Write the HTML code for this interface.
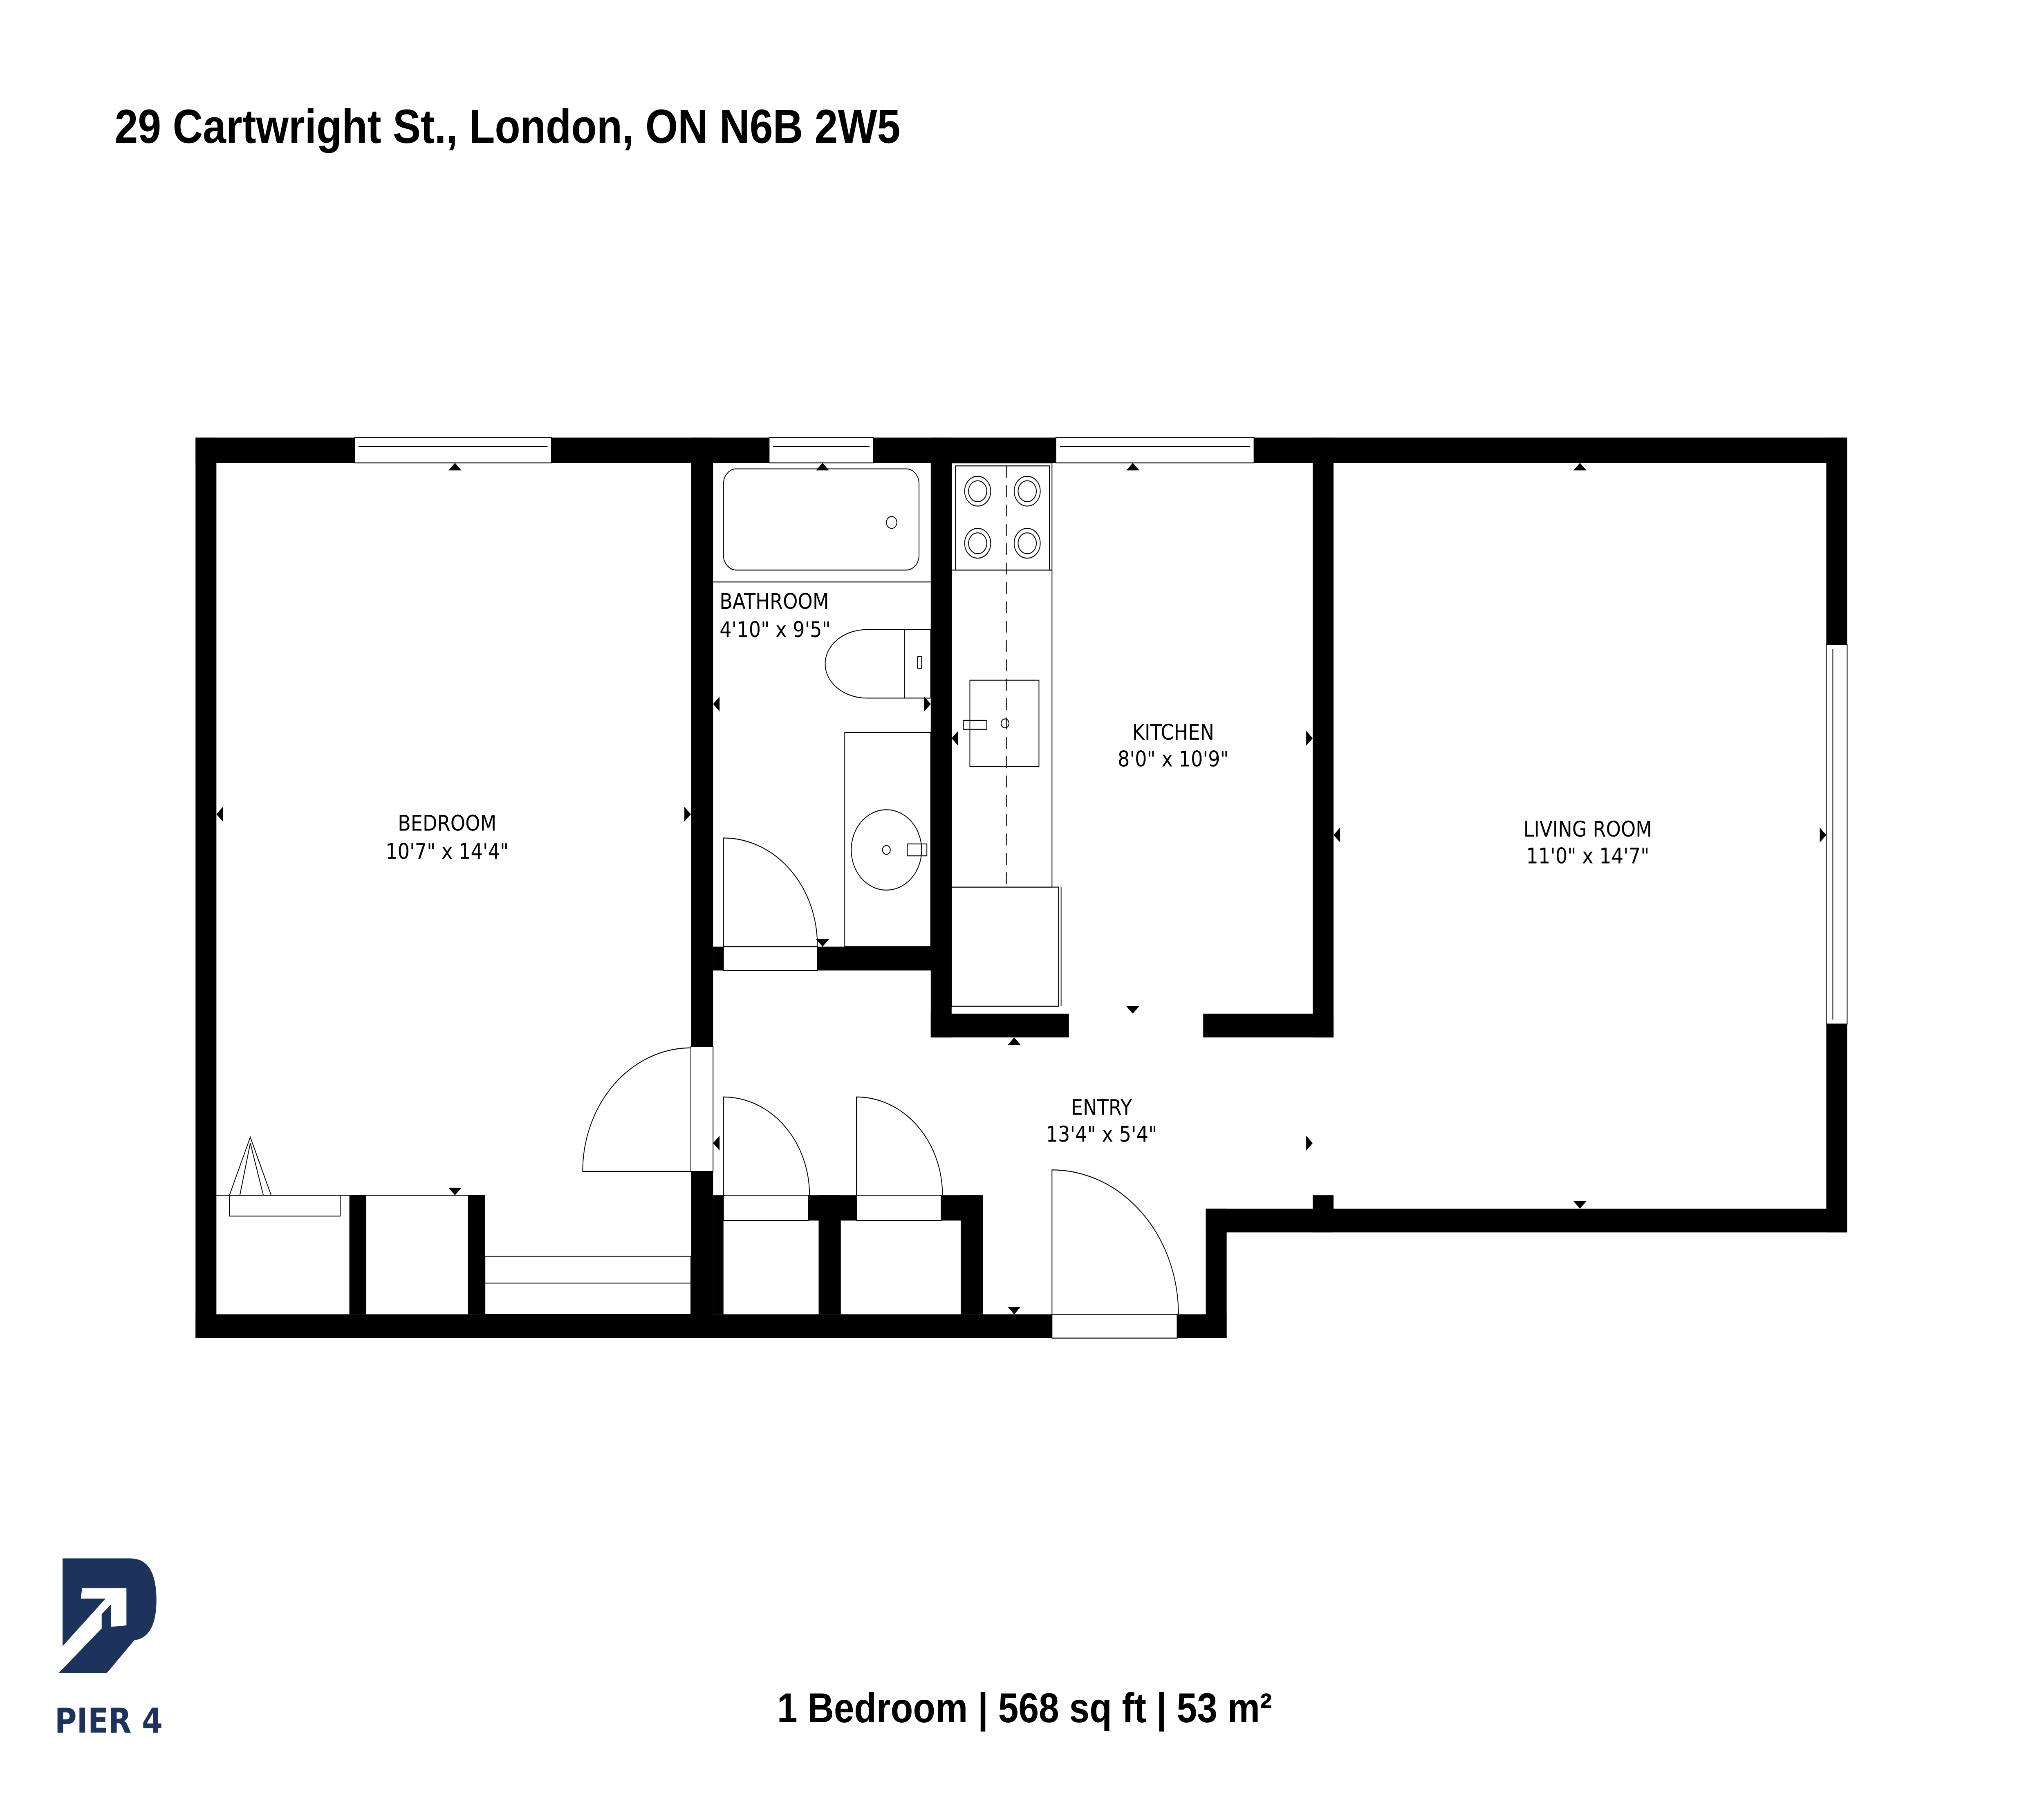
<!DOCTYPE html>
<html><head><meta charset="utf-8"><style>
html,body{margin:0;padding:0;background:#fff;width:100%;height:100%;overflow:hidden;}
svg{display:block;position:fixed;left:0;top:0;width:100vw;height:100vh;}
</style></head><body>
<svg viewBox="0 0 1568 1212" preserveAspectRatio="none" xmlns="http://www.w3.org/2000/svg">
<rect width="1568" height="1212" fill="#fff"/>
<text x="88" y="96" font-family="Liberation Sans, sans-serif" font-weight="bold" font-size="32" fill="#000">29 Cartwright St., London, ON N6B 2W5</text>

<g fill="#000">
<rect x="150" y="294" width="122" height="17"/>
<rect x="423" y="294" width="167" height="17"/>
<rect x="670" y="294" width="140" height="17"/>
<rect x="962" y="294" width="455" height="17"/>
<rect x="150" y="294" width="16" height="605"/>
<rect x="150" y="883" width="657" height="16"/>
<rect x="903" y="883" width="38" height="16"/>
<rect x="925" y="812" width="16" height="87"/>
<rect x="925" y="812" width="492" height="16"/>
<rect x="1401" y="294" width="16" height="139"/>
<rect x="1401" y="688" width="16" height="140"/>
<rect x="530" y="294" width="17" height="409"/>
<rect x="530" y="787" width="17" height="112"/>
<rect x="547" y="636" width="8" height="16"/>
<rect x="627" y="636" width="103" height="16"/>
<rect x="714" y="294" width="16" height="403"/>
<rect x="714" y="681" width="106" height="16"/>
<rect x="923" y="681" width="100" height="16"/>
<rect x="1007" y="294" width="16" height="403"/>
<rect x="1007" y="803" width="16" height="25"/>
<rect x="268" y="803" width="13" height="80"/>
<rect x="359" y="803" width="13" height="80"/>
<rect x="628" y="803" width="17" height="80"/>
<rect x="737" y="803" width="17" height="80"/>
<rect x="547" y="803" width="8" height="80"/>
<rect x="620" y="803" width="37" height="17"/>
<rect x="722" y="803" width="32" height="17"/>
</g>

<g fill="none" stroke="#000" stroke-width="0.6">
<rect x="272" y="294" width="151" height="17"/><line x1="275" y1="300" x2="420" y2="300"/>
<rect x="590" y="294" width="80" height="17"/><line x1="593" y1="300" x2="667" y2="300"/>
<rect x="810" y="294" width="152" height="17"/><line x1="813" y1="300" x2="959" y2="300"/>
<rect x="1401" y="433" width="16" height="255"/><line x1="1406" y1="436" x2="1406" y2="685"/>
<rect x="530" y="703" width="17" height="84"/>
<path d="M530 787 L447 787 A83 83 0 0 1 530 704"/>
<rect x="555" y="636" width="72" height="16"/>
<path d="M555 636 L555 563 A72 72 0 0 1 627 636"/>
<rect x="555" y="315" width="150" height="68" rx="10"/>
<circle cx="684" cy="351" r="4"/>
<line x1="547" y1="391" x2="714" y2="391"/>
<path d="M694 423 L665 423 A32 23 0 0 0 665 469 L694 469"/>
<rect x="694" y="423" width="20" height="46"/>
<rect x="704" y="441" width="3" height="8"/>
<rect x="648" y="492" width="66" height="144"/>
<ellipse cx="680" cy="571" rx="27" ry="27"/>
<circle cx="680" cy="571" r="3"/>
<rect x="696" y="567" width="15" height="8"/>
<rect x="733" y="313" width="72" height="70"/>
<rect x="730" y="311" width="77" height="72"/>
<circle cx="750" cy="330" r="10"/><circle cx="750" cy="330" r="7"/>
<circle cx="788" cy="330" r="10"/><circle cx="788" cy="330" r="7"/>
<circle cx="750" cy="365" r="10"/><circle cx="750" cy="365" r="7"/>
<circle cx="788" cy="365" r="10"/><circle cx="788" cy="365" r="7"/>
<rect x="730" y="383" width="77" height="213"/>
<line x1="772" y1="313" x2="772" y2="596" stroke-dasharray="8 5"/>
<rect x="744" y="457" width="53" height="58"/>
<circle cx="771" cy="486" r="3"/>
<rect x="739" y="484" width="18" height="6"/>
<rect x="730" y="596" width="82" height="80"/>
<line x1="814" y1="596" x2="814" y2="676"/>
<line x1="166" y1="803" x2="372" y2="803"/>
<rect x="176" y="803" width="85" height="14"/>
<path d="M176 803 L192 764 L208 803 M184 803 L192 768 L202 803"/>
<rect x="372" y="844" width="158" height="39"/>
<line x1="372" y1="862" x2="530" y2="862"/>
<rect x="555" y="803" width="65" height="17"/>
<path d="M555 803 L555 737 A66 66 0 0 1 621 803"/>
<rect x="657" y="803" width="65" height="17"/>
<path d="M657 803 L657 737 A66 66 0 0 1 723 803"/>
<rect x="807" y="883" width="96" height="16"/>
<path d="M807 883 L807 786 A97 97 0 0 1 904 883"/>
</g>

<g fill="#000">
<path d="M344 316 L354 316 L349 311 Z"/>
<path d="M344 798 L354 798 L349 803 Z"/>
<path d="M171 542 L171 552 L166 547 Z"/>
<path d="M525 542 L525 552 L530 547 Z"/>
<path d="M626 316 L636 316 L631 311 Z"/>
<path d="M626 631 L636 631 L631 636 Z"/>
<path d="M552 468 L552 478 L547 473 Z"/>
<path d="M709 468 L709 478 L714 473 Z"/>
<path d="M735 491 L735 501 L730 496 Z"/>
<path d="M1002 491 L1002 501 L1007 496 Z"/>
<path d="M864 316 L874 316 L869 311 Z"/>
<path d="M864 676 L874 676 L869 681 Z"/>
<path d="M773 702 L783 702 L778 697 Z"/>
<path d="M773 878 L783 878 L778 883 Z"/>
<path d="M552 763 L552 773 L547 768 Z"/>
<path d="M1002 763 L1002 773 L1007 768 Z"/>
<path d="M1028 556 L1028 566 L1023 561 Z"/>
<path d="M1396 556 L1396 566 L1401 561 Z"/>
<path d="M1207 316 L1217 316 L1212 311 Z"/>
<path d="M1207 807 L1217 807 L1212 812 Z"/>
</g>

<g font-family="DejaVu Sans, Liberation Sans, sans-serif" font-size="14.5" fill="#000" text-anchor="middle">
<text x="343" y="558">BEDROOM</text>
<text x="343" y="577">10'7" x 14'4"</text>
<text x="900" y="497">KITCHEN</text>
<text x="900" y="515">8'0" x 10'9"</text>
<text x="1218" y="562">LIVING ROOM</text>
<text x="1218" y="580">11'0" x 14'7"</text>
<text x="845" y="749">ENTRY</text>
<text x="845" y="767">13'4" x 5'4"</text>
<text x="552" y="409" text-anchor="start">BATHROOM</text>
<text x="552" y="428" text-anchor="start">4'10" x 9'5"</text>
</g>

<g fill="#1e335c">
<path d="M48 1047 L100 1047 Q120 1047 120 1075 Q120 1100 103 1102 L82 1124 L45 1124 L78 1094 L78 1077 L48 1106 Z"/>
</g>
<g fill="#fff">
<path d="M63 1067 L97 1067 L97 1092 L85 1093 L85 1078 L48 1112 L48 1106 L81 1074 L62 1074 Z"/>
</g>
<text x="42" y="1164" font-family="DejaVu Sans, Liberation Sans, sans-serif" font-weight="bold" font-size="23" fill="#1e335c">PIER 4</text>

<text x="786" y="1157" text-anchor="middle" font-family="Liberation Sans, sans-serif" font-weight="bold" font-size="28" fill="#000">1 Bedroom | 568 sq ft | 53 m²</text>
</svg>
</body></html>
